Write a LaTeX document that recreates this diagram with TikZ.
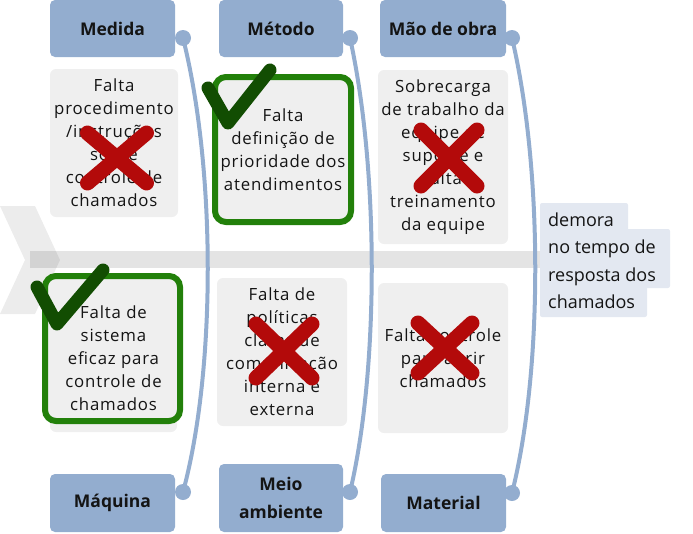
\documentclass[tikz,border=0pt]{standalone}
\usepackage{fontspec}
\setmainfont{Open Sans}
\newfontfamily\causefont{Open Sans}[LetterSpace=5]
\definecolor{catblue}{HTML}{93ADCF}
\definecolor{effbg}{HTML}{E3E8F1}
\definecolor{boxgray}{HTML}{EFEFEF}
\definecolor{okgreen}{HTML}{22800A}
\definecolor{chkgreen}{HTML}{124D02}
\definecolor{xred}{HTML}{B30A0A}
\definecolor{ink}{HTML}{141414}
\begin{document}
\begin{tikzpicture}[x=1pt,y=-1pt,
  cat/.style={fill=catblue,rounded corners=5pt,inner sep=0pt,text=ink,align=center,
    font=\bfseries\fontsize{17.5}{28}\selectfont},
  dot/.style={circle,fill=catblue,minimum size=16pt,inner sep=0pt},
  bone/.style={draw=catblue,line width=4pt},
  cause/.style={fill=boxgray,rounded corners=6pt,inner sep=0pt,text=ink,align=center,
    font=\causefont\fontsize{16.8}{23}\selectfont},
  goodbox/.style={cause,draw=okgreen,line width=6pt,rounded corners=11pt},
  txt/.style={inner sep=0pt,text=ink,align=center,font=\causefont\fontsize{16.8}{23}\selectfont},
  cross/.style={draw=xred,line width=15pt,line cap=round},
  tick/.style={draw=chkgreen,line width=13pt,line cap=round,line join=round},
  efftxt/.style={inner sep=0pt,text=ink,align=left,font=\fontsize{18}{27.5}\selectfont}
]
\useasboundingbox (0,0) rectangle (693,533);
% spine
\fill[black,opacity=0.075] (0,206) -- (35,206) -- (60,260) -- (35,314) -- (0,314) -- (25,260) -- cycle;
\fill[black,opacity=0.105] (30,251) rectangle (540,268);
% effect background
\fill[effbg,rounded corners=2pt] (540,203) rectangle (628,232);
\fill[effbg,rounded corners=2pt] (540,229) rectangle (670,288);
\fill[effbg,rounded corners=2pt] (540,284) rectangle (647,317);
\node[efftxt,anchor=west] (eff) at (548,260.5) {demora\\no tempo de\\resposta dos\\chamados};
% category boxes
\node[cat,minimum width=125pt,minimum height=57pt] (medida) at (112.5,28.5) {Medida};
\node[cat,minimum width=124pt,minimum height=57pt] (metodo) at (281,28.5) {Método};
\node[cat,minimum width=126pt,minimum height=57pt] (mao) at (443,28.5) {Mão de obra};
\node[cat,minimum width=125pt,minimum height=58pt] (maquina) at (112.5,503) {Máquina};
\node[cat,minimum width=124pt,minimum height=68pt] (meio) at (281,498) {Meio\\ambiente};
\node[cat,minimum width=125pt,minimum height=58pt] (material) at (443.5,503) {Material};
% dots
\node[dot] (d1) at (183,38) {};
\node[dot] (d2) at (350,38) {};
\node[dot] (d3) at (512,38) {};
\node[dot] (d4) at (183,492) {};
\node[dot] (d5) at (350,492) {};
\node[dot] (d6) at (512,493) {};
% bones
\draw[bone] (d1.center) .. controls (216,170) and (216,370) .. (d4.center);
\draw[bone] (d2.center) .. controls (379,170) and (379,370) .. (d5.center);
\draw[bone] (d3.center) .. controls (543,170) and (543,370) .. (d6.center);
% causes
\node[cause,minimum width=128pt,minimum height=148pt] (c1) at (114,143)
  {Falta\\procedimento\\/instruções\\sobre\\controle de\\chamados};
\node[goodbox,minimum width=136pt,minimum height=145pt] (c2) at (283,149.5)
  {Falta\\definição de\\prioridade dos\\atendimentos};
\node[cause,minimum width=130pt,minimum height=174pt] (c3) at (443,157)
  {Sobrecarga\\de trabalho da\\equipe de\\suporte e\\falta\\treinamento\\da equipe};
\node[cause,minimum width=127pt,minimum height=150pt] (c4b) at (113.5,357) {};
\node[goodbox,minimum width=135pt,minimum height=145pt] (c4) at (112.5,348.5) {};
\node[txt] (t4) at (113.5,358) {Falta de\\sistema\\eficaz para\\controle de\\chamados};
\node[cause,minimum width=130pt,minimum height=148pt] (c5) at (282,352)
  {Falta de\\políticas\\claras de\\comunicação\\interna e\\externa};
\node[cause,minimum width=130pt,minimum height=150pt] (c6) at (443,358)
  {Falta controle\\para abrir\\chamados};
% crosses
\draw[cross] (117-29.5,158-25) -- (117+29.5,158+25);
\draw[cross] (117+29.5,158-25) -- (117-29.5,158+25);
\draw[cross] (449-28,158-28) -- (449+28,158+28);
\draw[cross] (449+28,158-28) -- (449-28,158+28);
\draw[cross] (284-28,351-27) -- (284+28,351+27);
\draw[cross] (284+28,351-27) -- (284-28,351+27);
\draw[cross] (445-27,348-25) -- (445+27,348+25);
\draw[cross] (445+27,348-25) -- (445-27,348+25);
% ticks
\draw[tick] (208,88) -- (228,123) -- (270,70);
\draw[tick] (37,287) -- (57,324) -- (103,270);
\end{tikzpicture}
\end{document}
